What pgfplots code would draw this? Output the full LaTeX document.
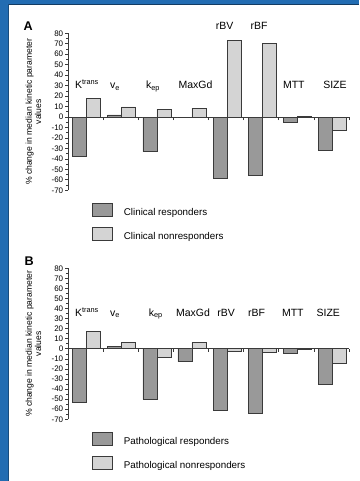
\documentclass[border=0pt]{standalone}
\usepackage{fontspec}
\setmainfont{Liberation Sans}
\usepackage{pgfplots}
\pgfplotsset{compat=1.18}

\definecolor{frameblue}{RGB}{34,108,178}
\definecolor{respgray}{RGB}{153,153,153}
\definecolor{nonrespgray}{RGB}{212,212,212}
\definecolor{edgegray}{RGB}{58,58,58}

\tikzset{catlabel/.style={font=\fontsize{10.5}{12}\selectfont, anchor=base}}

% Common look of both panels: paired bars per kinetic parameter
\pgfplotsset{
  kinetic/.style={
    scale only axis,
    width=281pt,
    xmin=0, xmax=8,
    ymin=-70, ymax=80,
    clip=false,
    axis x line*=middle,
    axis y line*=left,
    axis line style={edgegray, line width=0.7pt},
    xtick={0,1,...,8},
    xticklabels={},
    xtick align=center,
    ytick={-70,-60,...,80},
    minor y tick num=1,
    ytick align=outside,
    major tick length=3pt,
    minor tick length=1.8pt,
    tick style={edgegray, line width=0.7pt},
    /pgf/number format/assume math mode=true,
    yticklabel style={font=\fontsize{8}{9}\selectfont, inner sep=1.6pt},
    ylabel style={at={(axis description cs:-0.1228,0.5)}, anchor=center,
      align=center, font=\fontsize{8.6}{9.2}\selectfont},
    ybar=0pt,
    bar width=14pt,
    legend image code/.code={
      \draw[##1, line width=0.7pt] (0pt,-3.2pt) rectangle (20pt,9.8pt);},
    legend cell align=left,
    legend style={draw=none, fill=none, inner sep=0pt, row sep=8.6pt,
      column sep=10pt, font=\fontsize{9.8}{11}\selectfont,
      nodes={inner sep=1pt}},
  },
  resp/.style={fill=respgray, draw=edgegray, line width=0.7pt},
  nonresp/.style={fill=nonrespgray, draw=edgegray, line width=0.7pt},
}

\begin{document}
\begin{tikzpicture}
\useasboundingbox (0pt,0pt) rectangle (359pt,481pt);
\fill[white] (0pt,0pt) rectangle (359pt,481pt);
% blue frame strips
\fill[frameblue] (0pt,0pt) rectangle (8pt,481pt);
\fill[frameblue] (0pt,477pt) rectangle (359pt,481pt);
\draw[frameblue!55!black, line width=0.6pt] (8pt,476.8pt) -- (359pt,476.8pt);
\draw[frameblue!70!black, line width=0.5pt] (7.8pt,0pt) -- (7.8pt,476.8pt);

% Panel A: clinical response
\begin{axis}[kinetic, height=157pt, at={(68pt,290.7pt)}, anchor=south west,
  ylabel={\% change in median kinetic parameter\\values},
  legend style={at={(axis description cs:0.0854,-0.079)}, anchor=north west}]
\addplot[resp] coordinates {(0.53,-38) (1.53,2) (2.53,-33) (3.53,-0.6)
  (4.53,-59) (5.53,-56) (6.53,-4.8) (7.53,-32)};
\addplot[nonresp] coordinates {(0.53,17.8) (1.53,9.6) (2.53,7.6) (3.53,8.6)
  (4.53,73.5) (5.53,70.7) (6.53,0.8) (7.53,-13)};
\legend{Clinical responders, Clinical nonresponders}
\node[catlabel] at (axis cs:0.54,27) {K\textsuperscript{trans}};
\node[catlabel] at (axis cs:1.34,27) {v\textsubscript{e}};
\node[catlabel] at (axis cs:2.42,27) {k\textsubscript{ep}};
\node[catlabel] at (axis cs:3.63,27) {MaxGd};
\node[catlabel] at (axis cs:4.46,84) {rBV};
\node[catlabel] at (axis cs:5.44,84) {rBF};
\node[catlabel] at (axis cs:6.43,27) {MTT};
\node[catlabel] at (axis cs:7.6,27) {SIZE};
\end{axis}

% Panel B: pathological response
\begin{axis}[kinetic, height=151pt, at={(68pt,61.7pt)}, anchor=south west,
  ylabel={\% change in median kinetic parameter\\values},
  legend style={at={(axis description cs:0.0854,-0.082)}, anchor=north west}]
\addplot[resp] coordinates {(0.53,-53.3) (1.53,2) (2.53,-50.3) (3.53,-12.7)
  (4.53,-61.3) (5.53,-63.7) (6.53,-4) (7.53,-35.3)};
\addplot[nonresp] coordinates {(0.53,17.3) (1.53,6.7) (2.53,-8.3) (3.53,6.5)
  (4.53,-2.3) (5.53,-3.3) (6.53,-0.3) (7.53,-14.7)};
\legend{Pathological responders, Pathological nonresponders}
\node[catlabel] at (axis cs:0.54,32.3) {K\textsuperscript{trans}};
\node[catlabel] at (axis cs:1.34,32.3) {v\textsubscript{e}};
\node[catlabel] at (axis cs:2.5,32.3) {k\textsubscript{ep}};
\node[catlabel] at (axis cs:3.56,32.3) {MaxGd};
\node[catlabel] at (axis cs:4.5,32.3) {rBV};
\node[catlabel] at (axis cs:5.37,32.3) {rBF};
\node[catlabel] at (axis cs:6.4,32.3) {MTT};
\node[catlabel] at (axis cs:7.41,32.3) {SIZE};
\end{axis}

% panel letters
\node[anchor=base west, inner sep=0pt, font=\bfseries\fontsize{12.6}{14}\selectfont]
  at (23.5pt,450.3pt) {A};
\node[anchor=base west, inner sep=0pt, font=\bfseries\fontsize{12.6}{14}\selectfont]
  at (24.5pt,215.7pt) {B};
\end{tikzpicture}
\end{document}
